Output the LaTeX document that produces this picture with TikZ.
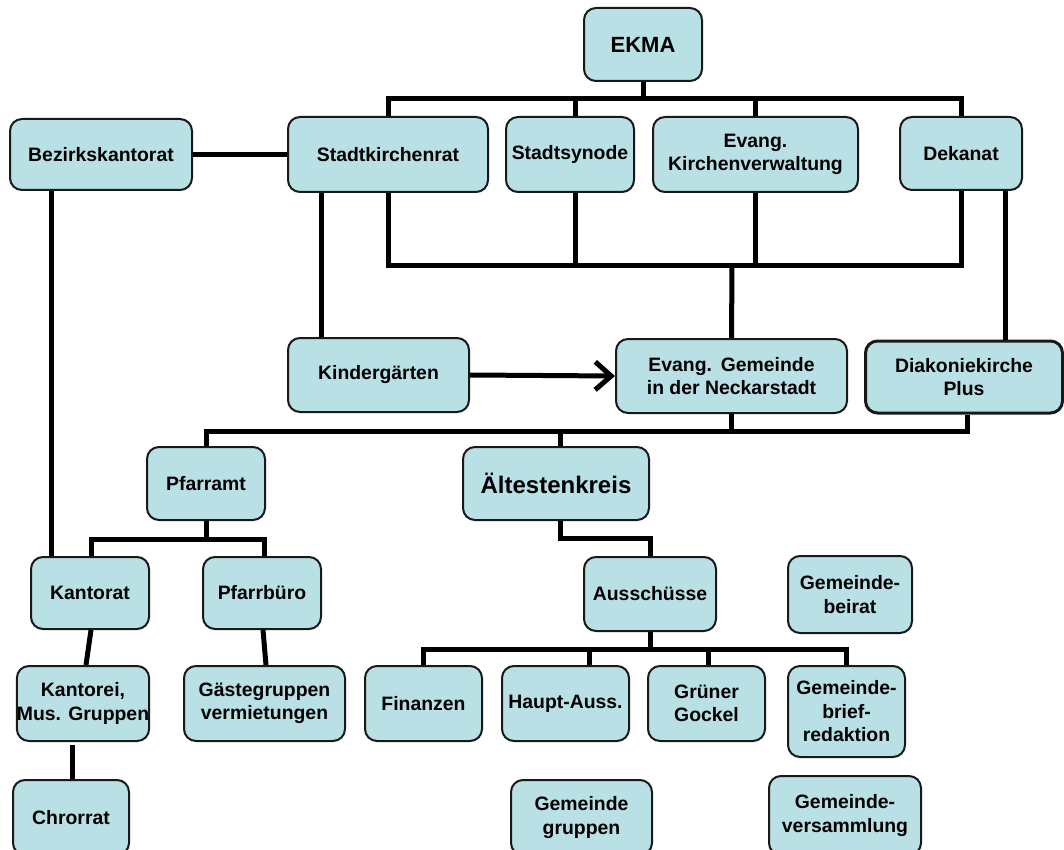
\documentclass[tikz,border=0pt]{standalone}
\usepackage{fontspec}
\setmainfont{Liberation Sans}
\usetikzlibrary{arrows.meta}
\definecolor{boxfill}{RGB}{185,224,228}
\definecolor{boxline}{RGB}{25,25,25}
\begin{document}
\begin{tikzpicture}[x=1pt,y=-1pt,
  box/.style={draw=boxline, fill=boxfill, line width=2pt, rounded corners=12pt,
    inner sep=0pt, align=center, font=\fontsize{19.4}{23.5}\selectfont\bfseries},
  sz/.style 2 args={minimum width=#1pt, minimum height=#2pt},
  conn/.style={line width=5pt, draw=black}]
\useasboundingbox (0,0) rectangle (1064,850);
\clip (0,0) rectangle (1064,850);
% nodes
\node[box, sz={118}{73}, font=\fontsize{22}{26}\selectfont\bfseries] (ekma) at (643,44.5) {EKMA};
\node[box, sz={182}{71}] (bezirk) at (101,154.5) {Bezirkskantorat};
\node[box, sz={200}{75}] (skr) at (388,154.5) {Stadtkirchenrat};
\node[box, sz={128}{75}] (synode) at (570,154.5) {Stadtsynode};
\node[box, sz={205}{75}] (ekv) at (755.5,154.5) {Evang.\\Kirchenverwaltung};
\node[box, sz={122}{73}] (dekanat) at (961,153.5) {Dekanat};
\node[box, sz={181}{74}] (kinder) at (378.5,375) {Kindergärten};
\node[box, sz={231}{74}] (gemeinde) at (731.5,376) {Evang.\hspace{0.45em}Gemeinde\\in der Neckarstadt};
\node[box, sz={197}{72}, line width=3pt] (diakonie) at (964,377) {Diakoniekirche\\Plus};
\node[box, sz={118}{73}] (pfarramt) at (206,483.5) {Pfarramt};
\node[box, sz={186}{73}, font=\fontsize{24}{28}\selectfont\bfseries] (aelt) at (556,483.5) {Ältestenkreis};
\node[box, sz={118}{72}] (kantorat) at (90,593) {Kantorat};
\node[box, sz={118}{72}] (pfarrbuero) at (262,593) {Pfarrbüro};
\node[box, sz={132}{74}] (ausschuesse) at (650,594) {Ausschüsse};
\node[box, sz={124}{77}] (beirat) at (850,594.5) {Gemeinde-\\beirat};
\node[box, sz={128}{75}] (kantorei) at (83,703.5) {Kantorei,\\Mus. Gruppen};
\node[box, sz={161}{75}] (gaeste) at (264.5,703.5) {Gästegruppen\\vermietungen};
\node[box, sz={117}{75}] (finanzen) at (423.5,703.5) {Finanzen};
\node[box, sz={127}{75}] (haupt) at (565.5,703.5) {Haupt-Auss.};
\node[box, sz={117}{75}] (gockel) at (706.5,703.5) {Grüner\\Gockel};
\node[box, sz={117}{91}] (brief) at (846.5,711.5) {Gemeinde-\\brief-\\redaktion};
\node[box, sz={116}{75}] (chrorrat) at (71,817.5) {Chrorrat};
\node[box, sz={141}{75}] (ggruppen) at (581.5,817.5) {Gemeinde\\gruppen};
\node[box, sz={152}{79}] (versammlung) at (845,815.5) {Gemeinde-\\versammlung};
% top bus
\coordinate (b1) at (643,99);
\draw[conn] (ekma.south) -- (b1);
\draw[conn] (skr.north) -- (skr.north |- b1) -- (dekanat.north |- b1) -- (dekanat.north);
\draw[conn] ([xshift=5pt]synode.north) -- ([xshift=5pt]synode.north |- b1);
\draw[conn] (ekv.north) -- (ekv.north |- b1);
% lower bus
\coordinate (b2) at (732,265);
\draw[conn] (skr.south) -- (skr.south |- b2) -- (dekanat.south |- b2) -- (dekanat.south);
\draw[conn] ([xshift=5pt]synode.south) -- ([xshift=5pt]synode.south |- b2);
\draw[conn] (ekv.south) -- (ekv.south |- b2);
\draw[conn] (b2) -- (gemeinde.north);
% side lines
\draw[conn] ([xshift=-67pt]skr.south) -- ([xshift=-67pt]skr.south |- kinder.north);
\draw[conn] (bezirk.east) -- (skr.west);
\draw[conn] ([xshift=-50pt]bezirk.south) -- ([xshift=-50pt]bezirk.south |- kantorat.north);
\draw[conn] ([xshift=44pt]dekanat.south) -- ([xshift=44pt]dekanat.south |- diakonie.north);
% arrow
\draw[conn, -{Straight Barb[length=16pt,width=28pt]}] (kinder.east) -- (gemeinde.west);
% third bus
\coordinate (b3) at (732,431);
\draw[conn] (pfarramt.north) -- (pfarramt.north |- b3) -- ([xshift=3pt]diakonie.south |- b3) -- ([xshift=3pt]diakonie.south);
\draw[conn] (gemeinde.south) -- (gemeinde.south |- b3);
\draw[conn] ([xshift=4pt]aelt.north |- b3) -- ([xshift=4pt]aelt.north);
% pfarramt
\coordinate (b4) at (206,539);
\draw[conn] (pfarramt.south) -- (b4);
\draw[conn] ([xshift=1pt]kantorat.north) -- ([xshift=1pt]kantorat.north |- b4) -- ([xshift=2pt]pfarrbuero.north |- b4) -- ([xshift=2pt]pfarrbuero.north);
% aeltestenkreis
\coordinate (b5) at (650,538);
\draw[conn] ([xshift=4pt]aelt.south) -- ([xshift=4pt]aelt.south |- b5) -- (b5) -- (ausschuesse.north);
% ausschuesse
\coordinate (b6) at (650,649);
\draw[conn] (ausschuesse.south) -- (b6);
\draw[conn] (finanzen.north) -- (finanzen.north |- b6) -- (brief.north |- b6) -- (brief.north);
\draw[conn] ([xshift=23.5pt]haupt.north) -- ([xshift=23.5pt]haupt.north |- b6);
\draw[conn] ([xshift=1.5pt]gockel.north) -- ([xshift=1.5pt]gockel.north |- b6);
% lower links
\draw[conn] ([xshift=1pt]kantorat.south) -- ([xshift=3pt]kantorei.north);
\draw[conn] ([xshift=1pt]pfarrbuero.south) -- ([xshift=1.5pt]gaeste.north);
\coordinate (kc) at (72,745);
\draw[conn] (kc) -- (kc |- chrorrat.north);
\end{tikzpicture}
\end{document}
